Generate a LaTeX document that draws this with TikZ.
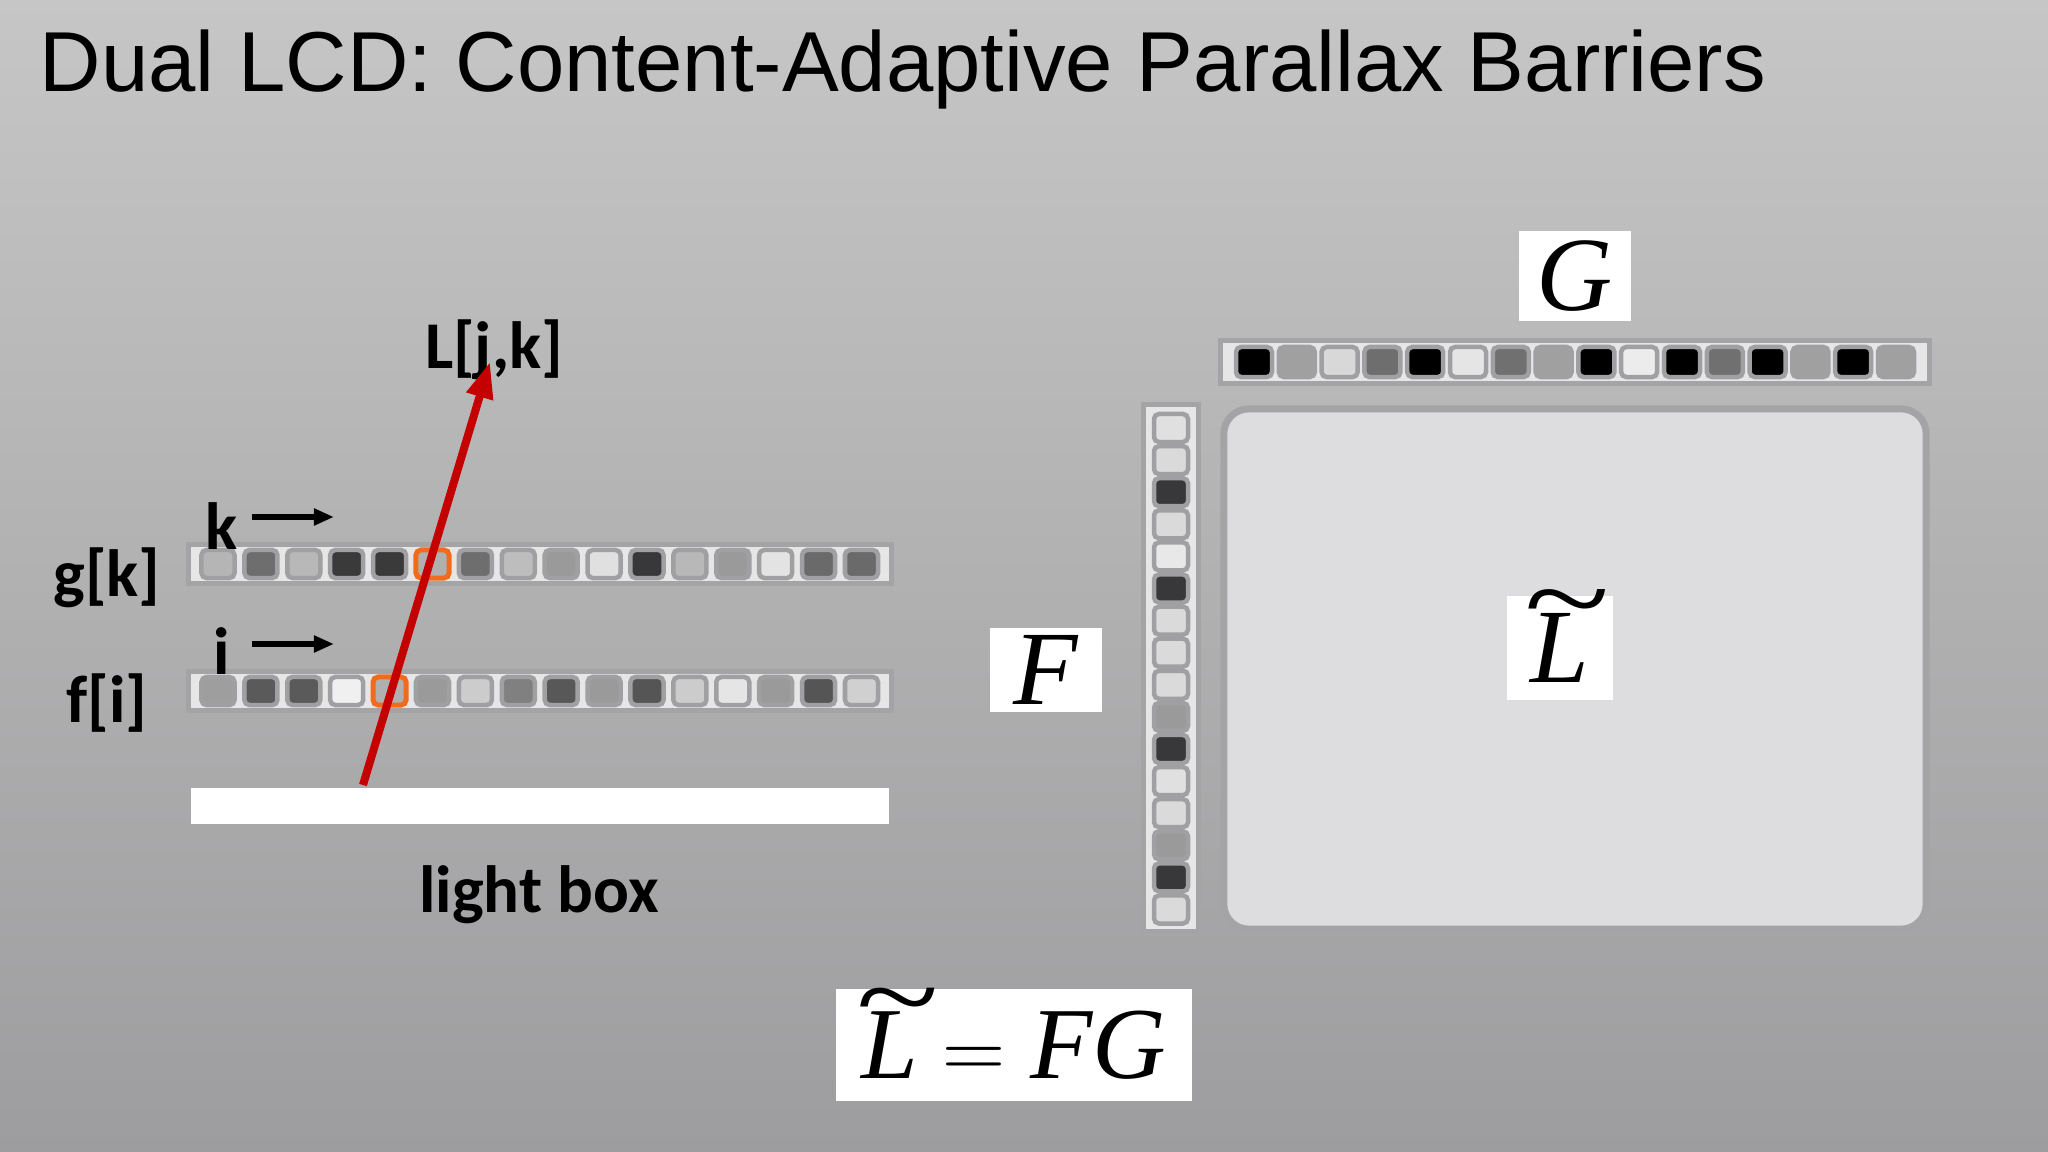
\documentclass[tikz,border=0pt]{standalone}
\usepackage{fontspec}
\setsansfont{Carlito}
\newfontfamily\titlefont{Liberation Sans}
\newfontfamily\mfont{Liberation Serif}
\newcommand{\mv}[1]{\hbox{\mfont\itshape #1}}
\newcommand{\tildeL}{\hbox{\ooalign{\mv{L}\cr\hidewidth\kern0.14em\raisebox{0.43em}{\scalebox{1.5}[1.1]{\mfont\char"7E}}\hidewidth\cr}}}
\usetikzlibrary{arrows.meta}
\definecolor{bgtop}{HTML}{C6C6C6}
\definecolor{bgbot}{HTML}{9D9C9E}
\definecolor{stripbg}{HTML}{E6E6E6}
\definecolor{stripfr}{HTML}{A4A4A6}
\definecolor{cellfr}{HTML}{A0A0A2}
\definecolor{orng}{HTML}{F26B1D}
\definecolor{arrred}{HTML}{C40000}
\definecolor{matfill}{HTML}{DDDCDF}
\tikzset{
  px/.style={x=0.01cm,y=-0.01cm},
  strip/.style={draw=stripfr,line width=0.05cm,fill=stripbg,inner sep=0pt},
  cell/.style={draw=cellfr,line width=0.045cm,rounded corners=0.05cm,inner sep=0pt,minimum width=0.33cm,minimum height=0.28cm},
  hcell/.style={cell,draw=orng,line width=0.05cm},
  lbl/.style={font=\sffamily\bfseries\fontsize{19}{22}\selectfont,inner sep=0pt},
  mbox/.style={fill=white,inner sep=0pt},
}
\begin{document}
\begin{tikzpicture}[px]
\shade[top color=bgtop,bottom color=bgbot] (0,0) rectangle (2048,1152);
\useasboundingbox (0,0) rectangle (2048,1152);
\node[anchor=west,inner sep=0pt,font=\titlefont\fontsize{24.2}{28}\selectfont] (title) at (39,70) {Dual LCD: Content-Adaptive Parallax Barriers};
% strips
\node[strip,minimum width=7.03cm,minimum height=0.39cm] (gstrip) at (540,564) {};
\node[strip,minimum width=7.03cm,minimum height=0.39cm] (fstrip) at (540,691) {};
\foreach \c [count=\n from 0] in {B5B5B5,6E6E6E,B8B8B8,3A3A3A,3A3A3A,B0B0B0,6E6E6E,BDBDBD,9A9A9A,E0E0E0,38383A,B8B8B8,9A9A9A,E3E3E3,6A6A6A,6A6A6A}{
  \definecolor{cc}{HTML}{\c}
  \ifnum\n=5 \node[hcell,fill=cc] (g\n) at ({218+42.9*\n},564) {};
  \else \node[cell,fill=cc] (g\n) at ({218+42.9*\n},564) {}; \fi
}
\foreach \c [count=\n from 0] in {9E9E9E,5A5A5A,5A5A5A,F0F0F0,B0B0B0,9A9A9A,CCCCCC,808080,585858,9A9A9A,555555,CCCCCC,E5E5E5,9A9A9A,555555,D0D0D0}{
  \definecolor{cc}{HTML}{\c}
  \ifnum\n=4 \node[hcell,fill=cc] (f\n) at ({218+42.9*\n},691) {};
  \else \node[cell,fill=cc] (f\n) at ({218+42.9*\n},691) {}; \fi
}
\node[fill=white,inner sep=0pt,minimum width=6.98cm,minimum height=0.36cm] (lightbox) at (540,806) {};
\node[lbl] (lbtext) at (539,895) {light box};
\node[lbl] (glbl) at (107,578) {g[k]};
\node[lbl] (flbl) at (107,703) {f[i]};
\node[lbl] (klbl) at (222,526) {k};
\node[lbl] (ilbl) at (222,651) {i};
\coordinate (ka) at (252,517); \coordinate (kb) at (334,517);
\coordinate (ia) at (252,644); \coordinate (ib) at (334,644);
\draw[line width=0.05cm,-{Triangle[length=0.2cm,width=0.16cm]}] (ka) -- (kb);
\draw[line width=0.05cm,-{Triangle[length=0.2cm,width=0.16cm]}] (ia) -- (ib);
\node[lbl] (Llbl) at (494,350) {L[j,k]};
\coordinate (rs) at (363,785);
\coordinate (re) at (490,362);
\draw[arrred,line width=0.08cm,-{Triangle[length=0.36cm,width=0.26cm]}] (rs) -- (re);
% right side
\node[strip,minimum width=7.08cm,minimum height=0.43cm] (Gstrip) at (1575,362) {};
\foreach \c [count=\n from 0] in {000000,A0A0A0,D8D8D8,6E6E6E,000000,E5E5E5,707070,A0A0A0,000000,ECECEC,000000,707070,000000,A0A0A0,000000,A0A0A0}{
  \definecolor{cc}{HTML}{\c}
  \node[cell,fill=cc,minimum width=0.36cm,minimum height=0.3cm] (G\n) at ({1254+42.8*\n},362) {};
}
\node[strip,minimum width=0.55cm,minimum height=5.26cm] (Fstrip) at (1171,668) {};
\foreach \c [count=\n from 0] in {E0E0E0,DADADA,38383A,DADADA,E8E8E8,38383A,DADADA,DADADA,DADADA,9A9A9A,38383A,E0E0E0,DADADA,9A9A9A,38383A,DADADA}{
  \definecolor{cc}{HTML}{\c}
  \node[cell,fill=cc,minimum width=0.34cm,minimum height=0.28cm] (F\n) at (1171,{428+32.1*\n}) {};
}
\node[draw=stripfr,line width=0.07cm,fill=matfill,rounded corners=0.25cm,minimum width=7.02cm,minimum height=5.2cm,inner sep=0pt] (mat) at (1575,669) {};
\node[mbox,minimum width=1.12cm,minimum height=0.9cm,font=\fontsize{30}{34}\selectfont] (Gbox) at (1575,276) {$\mv{G}$};
\node[mbox,minimum width=1.12cm,minimum height=0.84cm,font=\fontsize{30}{34}\selectfont] (Fbox) at (1046,670) {$\mv{F}$};
\node[mbox,minimum width=1.05cm,minimum height=1.03cm,font=\fontsize{30}{34}\selectfont] (Lbox) at (1560,648) {$\tildeL$};
\node[mbox,minimum width=3.56cm,minimum height=1.11cm,font=\fontsize{29}{34}\selectfont] (eq) at (1014,1045) {\raisebox{-3pt}{$\tildeL=\mv{FG}$}};
\end{tikzpicture}
\end{document}
